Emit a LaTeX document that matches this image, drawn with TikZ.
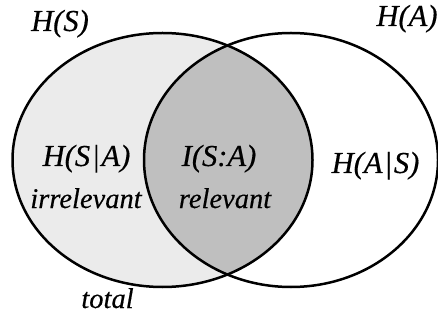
\documentclass[tikz,border=0pt]{standalone}
\usepackage{fontspec}
\setmainfont{Liberation Serif}[ItalicFeatures={FakeBold=0.4}]
\begin{document}
\begin{tikzpicture}[x=1pt,y=-1pt,
  lbl/.style={inner sep=0pt,anchor=base,font=\fontsize{28.5}{32}\selectfont\itshape,text=black},
  sym/.style={lbl,font=\fontsize{30.5}{34}\selectfont\itshape},
  rim/.style={line width=2.5pt,draw=black}]
\useasboundingbox (0,0) rectangle (438,320);
% entropy sets
\coordinate (cs) at (162.5,160);
\coordinate (ca) at (291,160);
\fill[black!8] (cs) ellipse [x radius=150,y radius=127];
\begin{scope}
  \clip (cs) ellipse [x radius=150,y radius=127];
  \fill[black!25] (ca) ellipse [x radius=147,y radius=127];
\end{scope}
\draw[rim] (cs) ellipse [x radius=150,y radius=127];
\draw[rim] (ca) ellipse [x radius=147,y radius=127];
% labels
\node[sym] (hs) at (60,31) {H(S)};
\node[sym] (ha) at (407,26) {H(A)};
\node[sym] (hsa) at (86.5,166) {H(S\kern1.5pt|\kern1.5ptA)};
\node[lbl] (irr) at (86,208) {irrelevant};
\node[sym] (isa) at (219,166) {I(S:A)};
\node[lbl] (rel) at (225,208) {relevant};
\node[sym] (has) at (375.5,173) {H(A\kern1.5pt|\kern1.5ptS)};
\node[lbl] (tot) at (107.5,308) {total};
\end{tikzpicture}
\end{document}
